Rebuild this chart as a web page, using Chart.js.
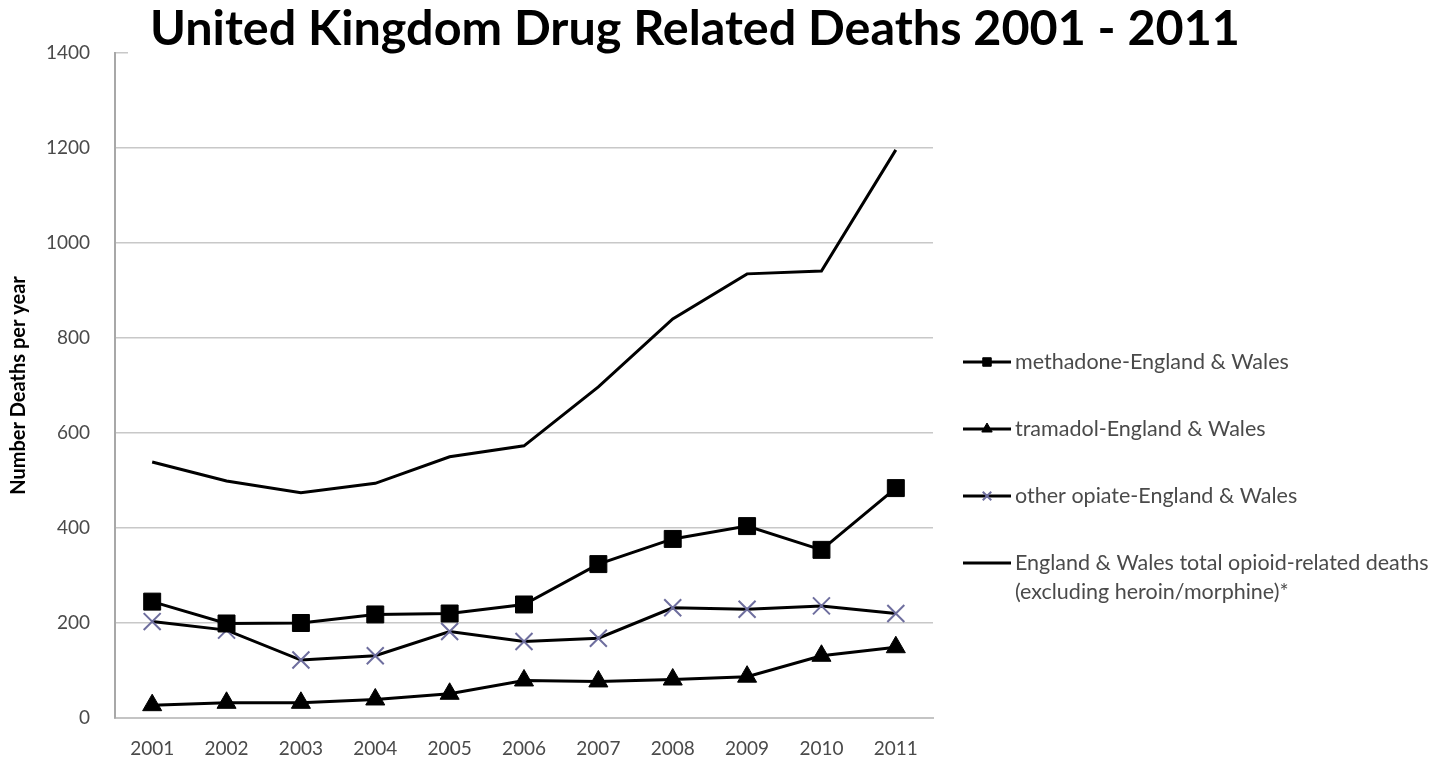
<!DOCTYPE html>
<html>
<head>
<meta charset="utf-8">
<title>United Kingdom Drug Related Deaths 2001 - 2011</title>
<script src="https://cdn.jsdelivr.net/npm/chart.js@4.4.1/dist/chart.umd.min.js"></script>
<style>
  html, body { margin: 0; padding: 0; background: #fff; }
  #wrap { width: 1456px; height: 758px; position: relative; }
</style>
</head>
<body>
<div id="wrap"><canvas id="chart"></canvas></div>
<script>
const years = ['2001', '2002', '2003', '2004', '2005', '2006', '2007', '2008', '2009', '2010', '2011'];
const methadone = [245, 199, 200, 218, 220, 239, 324, 377, 404, 354, 484];
const tramadol = [27, 32, 32, 39, 51, 79, 77, 81, 87, 131, 149];
const otherOpiate = [203, 185, 122, 131, 182, 161, 168, 232, 229, 236, 220];
const totalOpioid = [539, 499, 474, 494, 550, 573, 697, 840, 935, 941, 1196];
const yTicks = [0, 200, 400, 600, 800, 1000, 1200, 1400];

const TITLE = 'United Kingdom Drug Related Deaths 2001 - 2011';
const CROSS_COLOUR = '#6e6e9e';
const TEXT_GREY = '#4a4a4a';

// title sits on a white box that hides the top gridline, like the original slide
const titlePlugin = {
  id: 'slideTitle',
  afterDraw(chart) {
    const ctx = chart.ctx;
    ctx.save();
    ctx.fillStyle = '#fff';
    ctx.fillRect(128, 0, chart.width - 128, 58);
    let size = 46;
    ctx.font = `bold ${size}px Lato`;
    const w = ctx.measureText(TITLE).width;
    size = size * 1090 / w;
    ctx.font = `bold ${size}px Lato`;
    ctx.fillStyle = '#000';
    ctx.textAlign = 'left';
    ctx.textBaseline = 'alphabetic';
    ctx.fillText(TITLE, 150, 45);
    ctx.restore();
  },
};

// legend on the right, last entry wraps to two lines
const legendPlugin = {
  id: 'sideLegend',
  afterDraw(chart) {
    const ctx = chart.ctx;
    const x0 = 963;
    const top = 362;
    const gap = 67;
    ctx.save();
    ctx.font = '21.5px Lato';
    ctx.textBaseline = 'middle';
    ctx.textAlign = 'left';
    chart.data.datasets.forEach((ds, i) => {
      const y = top + i * gap;
      ctx.strokeStyle = ds.borderColor;
      ctx.lineWidth = 3;
      ctx.beginPath();
      ctx.moveTo(x0, y);
      ctx.lineTo(x0 + 48, y);
      ctx.stroke();
      if (ds.pointStyle && ds.pointRadius > 0) {
        ctx.fillStyle = ds.pointBackgroundColor;
        ctx.strokeStyle = ds.pointBorderColor;
        ctx.lineWidth = ds.pointBorderWidth;
        Chart.helpers.drawPoint(ctx, { pointStyle: ds.pointStyle, radius: 6, borderWidth: ds.pointBorderWidth }, x0 + 24, y);
      }
      ctx.fillStyle = TEXT_GREY;
      const lines = ds.label.split('\n');
      lines.forEach((t, j) => ctx.fillText(t, x0 + 52, y + j * 29));
    });
    ctx.restore();
  },
};

const common = {
  borderColor: '#000',
  borderWidth: 3,
  tension: 0,
  fill: false,
};

new Chart(document.getElementById('chart'), {
  type: 'line',
  data: {
    labels: years,
    datasets: [
      {
        ...common,
        label: 'methadone-England & Wales',
        data: methadone,
        pointStyle: 'rect',
        pointRadius: 12,
        pointBackgroundColor: '#000',
        pointBorderColor: '#000',
        pointBorderWidth: 1,
      },
      {
        ...common,
        label: 'tramadol-England & Wales',
        data: tramadol,
        pointStyle: 'triangle',
        pointRadius: 11,
        pointBackgroundColor: '#000',
        pointBorderColor: '#000',
        pointBorderWidth: 1,
      },
      {
        ...common,
        label: 'other opiate-England & Wales',
        data: otherOpiate,
        pointStyle: 'crossRot',
        pointRadius: 12,
        pointBackgroundColor: CROSS_COLOUR,
        pointBorderColor: CROSS_COLOUR,
        pointBorderWidth: 2,
      },
      {
        ...common,
        label: 'England & Wales total opioid-related deaths\n(excluding heroin/morphine)*',
        data: totalOpioid,
        pointRadius: 0,
        pointStyle: false,
      },
    ],
  },
  options: {
    responsive: true,
    maintainAspectRatio: false,
    animation: false,
    devicePixelRatio: 1,
    layout: { padding: { left: 0, right: 523, top: 53, bottom: 0 } },
    plugins: {
      legend: { display: false },
      tooltip: { enabled: false },
      title: { display: false },
    },
    scales: {
      x: {
        offset: true,
        grid: { display: false, drawTicks: false },
        border: { display: true, color: '#c4c4c4', width: 2 },
        ticks: {
          color: TEXT_GREY,
          font: { family: 'Lato', size: 19 },
          padding: 19,
          maxRotation: 0,
        },
        afterFit(scale) { scale.height = 40; },
      },
      y: {
        min: 0,
        max: 1400,
        afterBuildTicks(scale) { scale.ticks = yTicks.map((v) => ({ value: v })); },
        grid: { color: '#c8c8c8', lineWidth: 1.5, drawTicks: false },
        border: { display: true, color: '#a8a8a8', width: 2 },
        ticks: {
          color: TEXT_GREY,
          font: { family: 'Lato', size: 19 },
          padding: 25,
          callback: (v) => String(v),
        },
        title: {
          display: true,
          text: 'Number Deaths per year',
          color: '#000',
          font: { family: 'Lato', size: 20, weight: 'bold' },
          padding: { top: 7, bottom: 0 },
        },
        afterFit(scale) { scale.width = 115; },
      },
    },
  },
  plugins: [titlePlugin, legendPlugin],
});
</script>
</body>
</html>
